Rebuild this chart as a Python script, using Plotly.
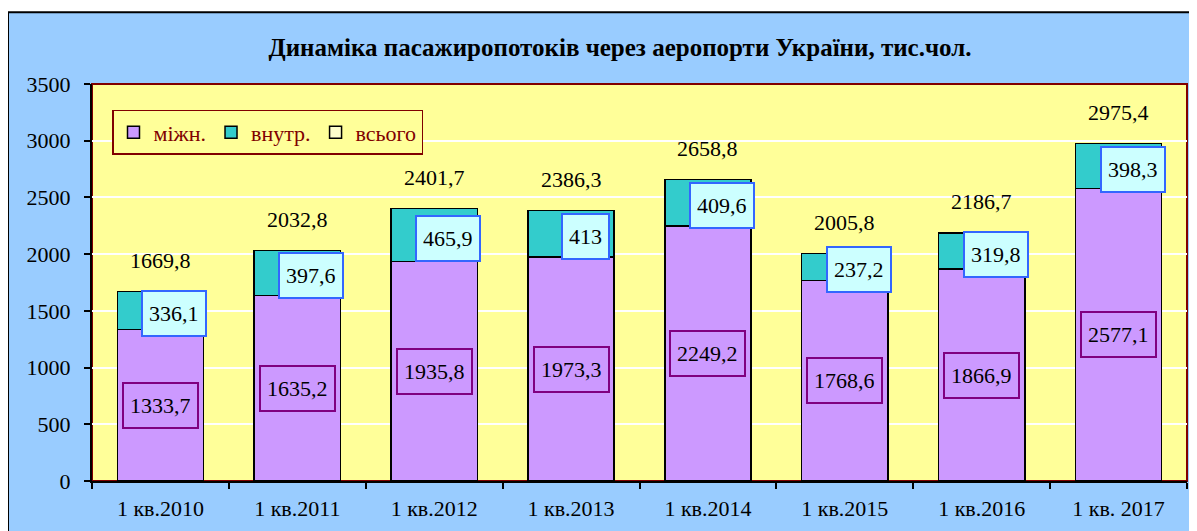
import plotly.graph_objects as go

categories = ["1 кв.2010", "1 кв.2011", "1 кв.2012", "1 кв.2013",
              "1 кв.2014", "1 кв.2015", "1 кв.2016", "1 кв. 2017"]
intl = [1333.7, 1635.2, 1935.8, 1973.3, 2249.2, 1768.6, 1866.9, 2577.1]
domestic = [336.1, 397.6, 465.9, 413.0, 409.6, 237.2, 319.8, 398.3]
total = [1669.8, 2032.8, 2401.7, 2386.3, 2658.8, 2005.8, 2186.7, 2975.4]

title_text = "Динаміка пасажиропотоків через аеропорти України, тис.чол."
FONT = "Liberation Serif"


def fmt(v):
    s = ("%.1f" % v).rstrip("0").rstrip(".")
    return s.replace(".", ",")


# figure is offset by the 8px body margin of the page
OFF = 8
W, H = 1197 - OFF, 531 - OFF
L, R, T, B = 92 - OFF, 10, 84 - OFF, 48
pw = W - L - R
ph = H - T - B


def px_x(px):
    return (px - OFF - L) / pw


def px_y(py):
    return (H - B - (py - OFF)) / ph


fig = go.Figure()
fig.add_trace(go.Bar(
    name="міжн.", x=categories, y=intl,
    marker=dict(color="#CC99FF", line=dict(color="black", width=1.5)),
))
fig.add_trace(go.Bar(
    name="внутр.", x=categories, y=domestic,
    marker=dict(color="#33CCCC", line=dict(color="black", width=1.5)),
))
fig.add_trace(go.Bar(
    name="всього", x=categories, y=[0] * len(categories),
    marker=dict(color="#FFFFCC", line=dict(color="black", width=1.5)),
    hoverinfo="skip",
))

annotations = []
for c, a, d, t in zip(categories, intl, domestic, total):
    annotations.append(dict(
        x=c, y=a / 2, xref="x", yref="y", text=fmt(a), showarrow=False,
        font=dict(family=FONT, size=22, color="black"),
        bordercolor="#800080", borderwidth=2, borderpad=6, height=31,
        bgcolor="rgba(0,0,0,0)",
    ))
    annotations.append(dict(
        x=c, y=a + d / 2, xref="x", yref="y", text=fmt(d), showarrow=False,
        xshift=14, yshift=-3,
        font=dict(family=FONT, size=22, color="black"),
        bordercolor="#3366FF", borderwidth=2, borderpad=6, height=31,
        bgcolor="#CCFFFF",
    ))
    annotations.append(dict(
        x=c, y=t, xref="x", yref="y", text=fmt(t), showarrow=False,
        yshift=31,
        font=dict(family=FONT, size=22, color="black"),
    ))

shapes = [
    dict(type="rect", xref="paper", yref="paper", layer="below",
         x0=px_x(8), x1=px_x(1210), y0=px_y(545), y1=px_y(12),
         fillcolor="#99CCFF", line=dict(color="black", width=2)),
    dict(type="rect", xref="paper", yref="paper", layer="below",
         x0=0, x1=1, y0=0, y1=1,
         fillcolor="#FFFF99", line=dict(color="#800000", width=2)),
]

fig.update_layout(
    width=W, height=H,
    margin=dict(l=L, r=R, t=T, b=B),
    paper_bgcolor="white",
    plot_bgcolor="rgba(0,0,0,0)",
    barmode="stack",
    bargap=0.37,
    font=dict(family=FONT, size=22, color="black"),
    title=dict(text="<b>" + title_text + "</b>", x=(620 - OFF) / W, xref="container",
               xanchor="center", y=1 - (47 - OFF) / H, yref="container", yanchor="middle",
               font=dict(family=FONT, size=25, color="black")),
    legend=dict(orientation="h", x=px_x(112), y=px_y(110), xanchor="left",
                yanchor="top", bgcolor="#FFFF99", bordercolor="#800000",
                borderwidth=1.5, font=dict(family=FONT, size=22, color="#800000"),
                traceorder="normal", tracegroupgap=0, itemwidth=30),
    annotations=annotations,
    shapes=shapes,
    showlegend=True,
)
fig.update_xaxes(
    type="category", showline=True, linecolor="black", linewidth=2,
    ticks="outside", tickson="boundaries", ticklen=6, tickcolor="black",
    tickwidth=1.5, showgrid=False, ticklabelstandoff=7,
    tickfont=dict(family=FONT, size=22, color="black"),
)
fig.update_yaxes(
    range=[0, 3500], dtick=500, showline=True, linecolor="black", linewidth=2,
    ticks="outside", ticklen=6, tickcolor="black", tickwidth=1.5,
    showgrid=True, gridcolor="white", gridwidth=2, zeroline=False,
    ticklabelstandoff=9,
    tickfont=dict(family=FONT, size=22, color="black"),
)

fig.write_html("out.html")
